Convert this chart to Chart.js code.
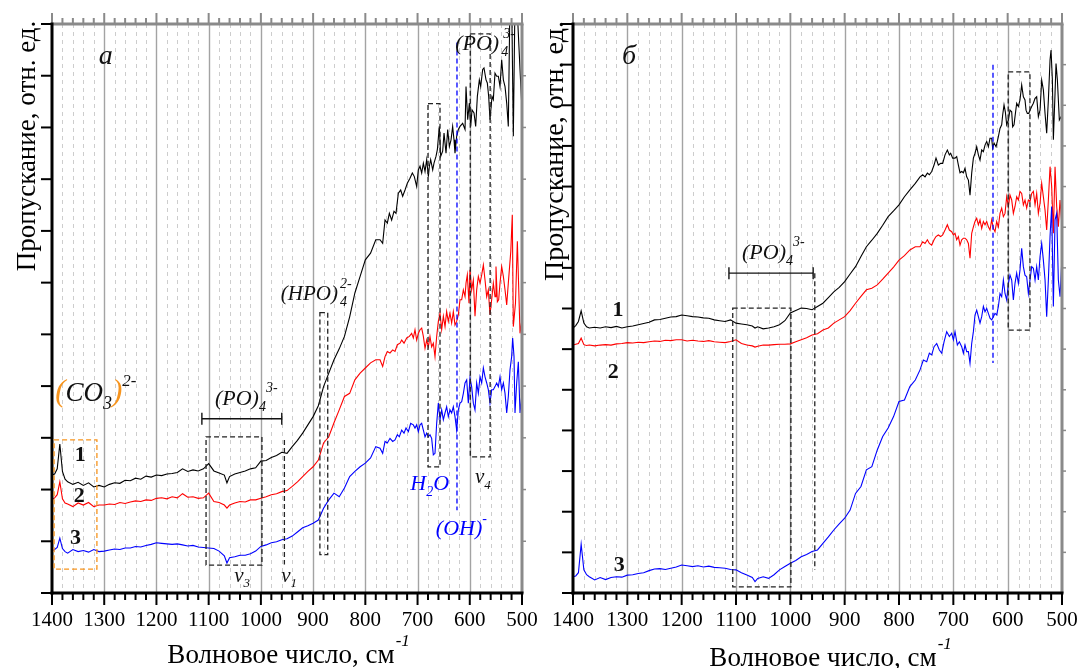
<!DOCTYPE html>
<html>
<head>
<meta charset="utf-8">
<script src="https://cdn.jsdelivr.net/npm/chart.js@4.4.1/dist/chart.umd.min.js"></script>
<style>
  html, body { margin: 0; padding: 0; background: #fff; }
  #wrap { position: relative; width: 1080px; height: 668px; overflow: hidden; }
  .panel { position: absolute; top: 0; width: 540px; height: 668px; }
</style>
</head>
<body>
<div id="wrap">
  <div class="panel" style="left:0"><canvas id="chartA" width="540" height="668"></canvas></div>
  <div class="panel" style="left:540px"><canvas id="chartB" width="540" height="668"></canvas></div>
</div>
<script>
// coarse wavenumber grid (cm-1), 1400 -> 770
const coarseX = [
  1400,1395,1390,1385,1380,1375,1370,1360,1350,1340,
  1330,1320,1310,1300,1290,1280,1270,1260,1250,1240,
  1230,1220,1210,1200,1190,1180,1170,1160,1150,1140,
  1130,1120,1110,1100,1090,1080,1070,1065,1060,1050,
  1040,1030,1020,1010,1000,990,980,970,960,950,
  940,930,920,910,900,890,880,870,860,850,
  840,830,820,810,800,790,780,770
];

// panel "а": coarse part (1400 -> 780)
const panelA_curve1 = [
  2.28,2.30,2.40,2.88,2.35,2.20,2.15,2.10,2.14,2.08,
  2.13,2.05,2.08,2.05,2.10,2.13,2.12,2.18,2.17,2.22,
  2.20,2.26,2.24,2.28,2.27,2.30,2.31,2.33,2.40,2.35,
  2.38,2.36,2.40,2.50,2.36,2.32,2.28,2.13,2.25,2.30,
  2.33,2.36,2.40,2.42,2.55,2.56,2.62,2.66,2.72,2.70,
  2.83,2.95,3.09,3.25,3.41,3.62,3.99,4.25,4.51,4.72,
  4.96,5.34,5.80,6.12,6.44,6.57,6.83
];
const panelA_curve2 = [
  1.80,1.84,1.90,2.15,1.82,1.74,1.72,1.67,1.74,1.70,
  1.75,1.67,1.70,1.70,1.72,1.71,1.75,1.73,1.76,1.78,
  1.77,1.80,1.79,1.83,1.84,1.82,1.86,1.84,1.92,1.85,
  1.86,1.83,1.84,1.93,1.77,1.75,1.70,1.64,1.70,1.74,
  1.77,1.76,1.80,1.80,1.83,1.86,1.90,1.92,1.96,1.98,
  2.06,2.15,2.25,2.35,2.44,2.57,2.90,3.02,3.29,3.54,
  3.80,3.86,4.12,4.25,4.35,4.45,4.51
];
const panelA_curve3 = [
  0.81,0.84,0.88,1.06,0.86,0.80,0.77,0.84,0.80,0.82,
  0.79,0.84,0.80,0.81,0.83,0.85,0.84,0.87,0.87,0.90,
  0.89,0.92,0.94,0.97,0.96,0.95,0.94,0.95,0.93,0.91,
  0.92,0.89,0.88,0.87,0.86,0.81,0.72,0.58,0.68,0.70,
  0.73,0.73,0.76,0.81,0.90,0.93,0.97,0.99,1.03,1.05,
  1.10,1.18,1.26,1.30,1.35,1.41,1.64,1.80,1.93,1.86,
  2.03,2.25,2.35,2.44,2.51,2.61,2.83
];
// panel "а": fine part (772 -> 500), x and y
const panelA_curve1_fineX = [771.9,766.8,762.3,757.9,754.0,749.6,745.1,741.3,736.8,732.3,728.5,724.0,719.6,714.5,710.0,706.2,701.7,698.5,695.3,692.1,688.9,685.7,682.5,679.3,677.4,674.9,671.0,668.5,664.7,662.1,658.3,655.7,651.9,649.3,645.5,642.3,639.1,635.9,632.8,630.2,628.3,625.1,621.9,618.7,613.6,609.1,607.2,604.0,600.8,598.3,595.7,591.9,588.7,585.5,581.7,579.1,575.3,572.8,568.9,566.4,563.8,561.3,557.4,554.9,551.7,548.5,545.3,542.1,538.9,535.7,532.5,529.3,526.2,523.0,519.8,516.6,513.4,510.2,503.8,500];
const panelA_curve1_fineY = [6.83,6.76,7.21,7.15,7.34,7.21,7.38,7.34,7.73,7.79,7.67,7.79,7.92,8.02,8.12,8.05,7.86,8.18,8.25,8.12,8.31,8.15,8.38,8.05,8.25,8.38,8.18,8.31,8.44,8.57,9.02,8.44,8.54,8.89,8.50,8.96,8.63,8.76,9.02,8.76,8.50,8.83,8.96,9.02,9.08,8.96,9.79,9.15,9.47,9.02,9.34,9.28,9.02,9.60,9.92,9.79,10.12,10.15,9.92,9.86,9.60,9.15,9.60,9.54,10.05,9.99,9.99,9.79,10.31,9.92,9.79,9.47,9.02,11.5,11.5,8.83,11.5,11.5,10.12,9.34];
const panelA_curve2_fineX = [771.9,766.8,762.3,757.9,752.8,747.6,743.2,738.7,733.6,730.4,725.9,720.8,715.7,711.3,708.1,704.9,701.7,698.5,695.3,692.1,688.9,685.7,682.5,679.3,676.2,673.0,669.8,666.6,663.4,660.2,657.0,653.8,650.6,647.4,644.3,641.1,637.9,634.7,631.5,628.3,625.1,621.9,618.7,615.5,612.3,609.1,607.2,604.7,601.5,599.6,596.4,593.2,590.0,586.8,583.6,580.4,577.2,574.0,570.8,567.6,564.5,561.3,558.1,554.9,551.7,549.8,547.2,544.7,542.1,538.9,535.7,532.5,529.3,526.2,521.5,518.6,516.6,512.5,508.9,503.8,500];
const panelA_curve2_fineY = [4.51,4.38,4.57,4.67,4.64,4.70,4.67,4.80,4.83,4.89,4.83,4.93,4.96,5.02,4.93,5.09,4.89,5.02,5.09,5.12,4.96,4.73,4.89,4.76,4.96,4.76,4.83,4.57,4.96,5.25,5.41,5.09,5.35,5.15,5.44,5.25,5.41,5.22,5.44,5.18,5.25,5.38,5.67,5.67,5.86,5.73,5.99,6.15,5.60,6.25,5.86,6.05,5.35,5.86,6.12,5.99,6.15,6.34,6.05,5.73,5.86,5.38,5.67,5.99,5.73,6.31,5.63,5.67,5.99,6.31,6.12,5.86,5.57,5.99,6.60,7.31,5.15,5.60,6.80,5.02,5.30];
const panelA_curve3_fineX = [771.9,766.8,762.3,757.9,752.8,747.6,743.2,738.7,734.9,730.4,725.9,722.1,717.6,713.2,708.1,704.9,701.7,698.5,695.3,692.1,688.9,685.7,682.5,679.3,676.2,673.0,669.8,666.6,663.4,660.2,657.0,653.8,650.6,647.4,644.3,641.1,637.9,634.7,631.5,628.3,625.1,621.9,618.7,615.5,612.3,609.1,605.9,602.8,599.6,596.4,593.2,590.0,586.8,583.6,580.4,577.2,574.0,570.8,567.6,564.5,561.3,558.1,554.9,551.7,548.5,545.3,542.1,538.9,535.7,532.5,529.3,526.2,523.0,519.8,517.9,515.3,513.4,510.2,507.0,503.8,500];
const panelA_curve3_fineY = [2.80,2.70,2.93,2.90,2.99,2.93,2.96,3.06,3.02,3.15,3.09,3.19,3.12,3.28,3.25,3.19,3.25,3.12,3.25,3.28,3.15,3.02,3.09,3.02,3.06,2.99,2.67,2.70,3.28,3.67,3.35,3.54,3.35,3.48,3.60,3.41,3.54,3.48,3.60,3.41,3.15,3.54,3.67,3.70,3.86,4.06,4.12,3.67,4.15,3.99,3.67,3.54,4.06,3.86,4.18,4.06,4.35,4.18,4.06,3.93,3.67,3.93,3.93,3.99,4.06,3.99,4.18,3.93,4.06,3.86,3.48,3.80,4.31,4.57,4.93,4.57,3.48,4.06,4.47,3.48,3.86];

// panel "б": coarse part (1400 -> 770)
const panelB_curve1 = [
  6.52,6.58,6.68,6.94,6.64,6.55,6.52,6.54,6.52,6.55,
  6.53,6.56,6.52,6.55,6.57,6.60,6.63,6.66,6.72,6.73,
  6.76,6.79,6.80,6.84,6.82,6.80,6.79,6.77,6.76,6.72,
  6.70,6.68,6.72,6.64,6.62,6.60,6.57,6.52,6.55,6.50,
  6.52,6.55,6.60,6.70,6.89,6.95,7.01,7.00,6.97,7.05,
  7.13,7.27,7.41,7.52,7.66,7.85,8.03,8.28,8.52,8.68,
  8.85,9.05,9.26,9.40,9.55,9.75,9.92,10.08
];
const panelB_curve2 = [
  6.10,6.12,6.14,6.27,6.11,6.09,6.10,6.08,6.10,6.11,
  6.10,6.13,6.14,6.16,6.15,6.17,6.16,6.18,6.20,6.19,
  6.22,6.21,6.23,6.23,6.20,6.22,6.20,6.19,6.21,6.18,
  6.17,6.16,6.19,6.23,6.14,6.10,6.08,6.05,6.07,6.10,
  6.10,6.11,6.12,6.12,6.13,6.18,6.23,6.28,6.35,6.38,
  6.47,6.52,6.64,6.72,6.80,6.95,7.13,7.30,7.46,7.50,
  7.58,7.72,7.87,8.02,8.19,8.30,8.44,8.52
];
const panelB_curve3 = [
  0.40,0.42,0.50,1.20,0.57,0.45,0.40,0.32,0.38,0.33,
  0.38,0.40,0.39,0.44,0.45,0.48,0.50,0.55,0.59,0.60,
  0.58,0.61,0.64,0.69,0.67,0.65,0.67,0.64,0.66,0.63,
  0.62,0.61,0.58,0.57,0.50,0.44,0.38,0.28,0.36,0.40,
  0.36,0.45,0.57,0.65,0.73,0.80,0.89,0.95,1.02,1.06,
  1.22,1.38,1.55,1.70,1.84,2.04,2.45,2.62,3.03,3.11,
  3.52,3.85,4.06,4.34,4.71,4.75,5.08,5.24
];
// panel "б": fine part (761 -> 500)
const panelB_curve1_fineX = [761.3,756.4,752.1,747.8,744.1,739.8,735.5,731.9,727.6,723.3,719.6,715.3,711.0,707.3,704.9,701.2,696.9,693.8,690.7,687.7,684.6,681.5,678.5,675.4,672.3,669.3,666.2,663.1,660.1,657.0,653.9,650.9,647.8,644.7,641.7,638.6,635.5,632.5,629.4,627.6,625.1,621.4,619.0,617.1,614.1,611.0,609.2,606.7,604.3,601.8,598.7,595.7,592.6,590.8,588.3,586.5,583.4,580.3,577.3,574.2,571.1,568.1,566.2,563.8,561.3,558.9,555.8,552.7,549.6,546.6,543.5,540.4,537.4,534.3,531.2,528.2,525.1,522.0,520.2,517.7,515.9,512.8,511.0,508.5,504.9,500];
const panelB_curve1_fineY = [10.24,10.29,10.24,10.33,10.29,10.37,10.53,10.70,10.53,10.57,10.57,10.78,10.90,10.78,10.82,10.70,10.70,10.74,10.53,10.34,10.37,10.34,10.45,10.24,10.16,9.79,10.33,10.70,10.82,10.98,10.78,10.65,10.90,10.86,11.02,11.11,10.98,11.19,11.19,10.94,11.07,10.98,11.11,11.23,11.43,11.52,11.76,12.01,11.84,11.52,11.64,11.88,11.84,11.47,11.52,11.72,12.05,11.97,12.13,12.50,12.21,12.13,11.88,11.80,11.80,11.88,11.97,12.05,12.17,12.21,11.72,11.88,12.62,12.38,11.80,11.31,12.13,13.12,13.36,12.62,11.15,12.30,13.03,12.62,11.64,11.76];
const panelB_curve2_fineX = [761.3,756.4,752.1,747.8,744.1,739.8,735.5,731.9,727.6,723.3,719.6,715.3,711.0,707.3,703.0,699.9,696.9,693.8,690.7,687.7,684.6,681.5,678.5,675.4,672.3,669.3,666.2,663.1,660.1,657.0,653.9,650.9,647.8,644.7,641.7,638.6,635.5,632.5,629.4,626.3,623.3,620.2,617.1,614.1,611.0,607.9,604.9,601.8,598.7,595.7,592.6,589.5,586.5,583.4,580.3,577.3,574.2,571.1,568.1,565.0,561.9,558.9,555.8,552.7,549.6,546.6,543.5,540.4,537.4,534.3,531.2,528.2,525.1,522.0,519.0,515.9,512.8,509.8,506.7,503.6,500];
const panelB_curve2_fineY = [8.52,8.64,8.60,8.69,8.60,8.56,8.69,8.77,8.81,8.77,8.81,8.93,9.06,8.93,8.89,8.81,8.85,8.69,8.77,8.56,8.69,8.73,8.73,8.69,8.60,8.24,8.85,9.01,9.14,9.22,9.06,9.18,8.97,9.14,9.06,9.14,9.01,8.93,9.18,8.97,8.89,9.14,9.01,9.34,9.47,9.26,9.34,9.75,9.51,9.79,9.67,9.34,9.51,9.75,9.67,9.88,9.83,9.55,9.67,9.47,9.67,9.63,9.83,9.88,9.55,9.83,9.34,9.59,10.08,9.75,9.42,8.93,9.67,10.49,10.00,8.85,10.49,9.51,9.01,9.67,9.01];
const panelB_curve3_fineX = [761.3,755.2,749.0,744.1,739.8,735.5,730.6,725.7,721.4,717.1,712.2,707.3,703.0,699.9,696.9,692.6,688.9,684.6,681.5,678.5,675.4,672.3,669.3,666.2,663.1,660.1,657.0,653.9,650.9,647.8,644.7,641.7,638.6,635.5,632.5,629.4,626.3,623.3,620.2,617.1,614.1,611.0,607.9,604.9,601.8,598.7,595.7,592.6,589.5,586.5,583.4,580.3,577.3,574.2,571.1,568.1,565.0,561.9,558.9,555.8,552.7,549.6,546.6,543.5,540.4,537.4,534.3,531.2,528.2,525.1,522.0,519.0,515.9,512.8,509.8,506.7,503.6,500];
const panelB_curve3_fineY = [5.49,5.73,5.69,5.90,5.86,6.06,6.14,5.98,5.90,6.18,6.43,6.31,6.39,6.23,6.43,6.10,6.18,6.06,5.90,6.10,5.94,5.94,5.65,6.14,6.43,6.84,6.96,6.80,6.64,6.80,7.05,6.92,7.00,6.88,6.76,6.72,6.80,6.88,6.84,7.05,7.37,7.29,7.70,7.37,7.21,7.62,7.82,7.70,7.21,7.62,7.87,7.62,7.95,8.48,8.03,7.82,7.78,7.37,7.70,8.03,7.99,7.70,8.03,7.70,8.28,8.60,8.19,7.70,6.80,7.70,8.77,9.51,7.05,9.18,9.34,7.70,7.29,8.28];

const FONT = '"Liberation Serif", "Times New Roman", serif';
const ORANGE = '#f7941d';
const BLUE = '#0000ff';

// annotations, in data units (cm-1 / y units)
const notesA = [
  {type: 'box', x1: 1396, x2: 1314, y1: 2.96, y2: 0.46, color: ORANGE},
  {type: 'text', x: 1394, y: 3.71, parts: [
    {t: '(', s: 31, c: ORANGE}, {t: 'CO', s: 27}, {t: '3', s: 18, dy: 8},
    {t: ')', s: 31, c: ORANGE}, {t: '2-', s: 17, dy: -15}]},
  {type: 'label', x: 1346, y: 2.67, t: '1'},
  {type: 'label', x: 1348, y: 1.87, t: '2'},
  {type: 'label', x: 1355, y: 1.06, t: '3'},
  {type: 'text', x: 1088, y: 3.64, parts: [{t: '(PO)', s: 22}, {t: '4', s: 14, dy: 6}, {t: '3-', s: 14, dy: -13}]},
  {type: 'bar', x1: 1113, x2: 960, y: 3.37},
  {type: 'box', x1: 1105, x2: 998, y1: 3.02, y2: 0.54},
  {type: 'vline', x: 955, y1: 2.96, y2: 0.55},
  {type: 'text', x: 1051, y: 0.21, parts: [{t: 'ν', s: 21}, {t: '3', s: 13, dy: 5}]},
  {type: 'text', x: 961, y: 0.21, parts: [{t: 'ν', s: 21}, {t: '1', s: 13, dy: 5}]},
  {type: 'box', x1: 887, x2: 872, y1: 5.42, y2: 0.74},
  {type: 'text', x: 962, y: 5.67, parts: [{t: '(HPO)', s: 21}, {t: '4', s: 14, dy: 6, keep: true, dx: 2}, {t: '2-', s: 14, dy: -12, dx: 2}]},
  {type: 'box', x1: 680, x2: 657, y1: 9.46, y2: 2.44},
  {type: 'text', x: 714, y: 1.99, c: BLUE, parts: [{t: 'H', s: 22}, {t: '2', s: 14, dy: 6}, {t: 'O', s: 22}]},
  {type: 'vline', x: 624.5, y1: 10.64, y2: 1.6, color: BLUE},
  {type: 'text', x: 665, y: 1.12, c: BLUE, parts: [{t: '(OH)', s: 22}, {t: '-', s: 14, dy: -12}]},
  {type: 'box', x1: 599, x2: 561, y1: 10.81, y2: 2.63},
  {type: 'text', x: 590, y: 2.13, parts: [{t: 'ν', s: 21}, {t: '4', s: 13, dy: 6}]},
  {type: 'text', x: 628, y: 10.5, parts: [{t: '(PO)', s: 22}, {t: '4', s: 14, dy: 6, keep: true, dx: 2}, {t: '3-', s: 14, dy: -12, dx: 4}]},
  {type: 'letter', x: 1297, y: 10.37, t: 'a'}
];
const notesB = [
  {type: 'letter', x: 1297, y: 13.2, t: 'б'},
  {type: 'text', x: 1089, y: 8.22, parts: [{t: '(PO)', s: 22}, {t: '4', s: 14, dy: 6}, {t: '3-', s: 14, dy: -13}]},
  {type: 'bar', x1: 1113, x2: 958, y: 7.87},
  {type: 'box', x1: 1106, x2: 999, y1: 7.01, y2: 0.15},
  {type: 'vline', x: 955, y1: 7.87, y2: 0.57},
  {type: 'vline', x: 627, y1: 13.0, y2: 5.66, color: BLUE},
  {type: 'box', x1: 599, x2: 559, y1: 12.82, y2: 6.47},
  {type: 'label', x: 1317, y: 6.96, t: '1'},
  {type: 'label', x: 1326, y: 5.44, t: '2'},
  {type: 'label', x: 1315, y: 0.69, t: '3'}
];

function seg(ctx, x1, y1, x2, y2) {
  ctx.beginPath(); ctx.moveTo(x1, y1); ctx.lineTo(x2, y2); ctx.stroke();
}

function drawParts(ctx, parts, px, py, color) {
  let cx = px;
  ctx.textAlign = 'left';
  ctx.textBaseline = 'alphabetic';
  for (const p of parts) {
    ctx.font = `italic normal ${p.s}px ${FONT}`;
    ctx.fillStyle = p.c || color || '#111';
    const x0 = cx + (p.dx || 0);
    ctx.fillText(p.t, x0, py + (p.dy || 0));
    if (!p.keep) cx = x0 + ctx.measureText(p.t).width;
  }
}

const framePlugin = {
  id: 'frame',
  beforeDatasetsDraw(chart) {
    const {ctx, chartArea: a, scales: {x}} = chart;
    ctx.save();
    for (let w = 520; w < 1400; w += 20) {
      const px = Math.round(x.getPixelForValue(w)) + 0.5;
      if (w % 100 === 0) {
        ctx.setLineDash([]); ctx.strokeStyle = '#a3a3a3'; ctx.lineWidth = 1.4;
      } else {
        ctx.setLineDash([4, 4]); ctx.strokeStyle = '#cdcdcd'; ctx.lineWidth = 1;
      }
      seg(ctx, px, a.top, px, a.bottom);
    }
    ctx.restore();
  },
  afterDatasetsDraw(chart, args, opts) {
    const {ctx, chartArea: a, scales: {x, y}} = chart;
    ctx.save();
    ctx.setLineDash([]);
    ctx.lineCap = 'butt';

    // top axis (grey, ticks upward)
    ctx.strokeStyle = '#8a8a8a';
    ctx.lineWidth = 2;
    for (let w = 500; w <= 1400; w += 20) {
      const px = x.getPixelForValue(w);
      seg(ctx, px, a.top, px, a.top - (w % 100 === 0 ? 11 : 6));
    }
    ctx.lineWidth = 3;
    seg(ctx, a.left, a.top, a.right + 1.5, a.top);
    // right axis (grey)
    seg(ctx, a.right, a.top, a.right, a.bottom);
    ctx.lineWidth = 1.5;
    for (let v = 1; v < opts.yMax; v++) {
      const py = y.getPixelForValue(v);
      seg(ctx, a.right, py, a.right + 4, py);
    }

    // bottom axis (black, ticks downward)
    ctx.strokeStyle = '#000';
    ctx.lineWidth = 2;
    for (let w = 500; w <= 1400; w += 20) {
      const px = x.getPixelForValue(w);
      seg(ctx, px, a.bottom, px, a.bottom + (w % 100 === 0 ? 12 : 7));
    }
    ctx.lineWidth = 3;
    seg(ctx, a.left - 1.5, a.bottom, a.right + 1.5, a.bottom);
    // left axis (black, ticks to the left)
    seg(ctx, a.left, a.top - 1.5, a.left, a.bottom + 1.5);
    ctx.lineWidth = 2;
    for (let v = 0; v <= opts.yMax; v++) {
      const py = y.getPixelForValue(v);
      seg(ctx, a.left - 11, py, a.left, py);
    }

    // annotations
    for (const n of opts.notes) {
      if (n.type === 'box') {
        ctx.setLineDash([5, 3]);
        ctx.strokeStyle = n.color || '#222';
        ctx.lineWidth = 1.3;
        const x1 = x.getPixelForValue(n.x1), x2 = x.getPixelForValue(n.x2);
        const y1 = y.getPixelForValue(n.y1), y2 = y.getPixelForValue(n.y2);
        ctx.strokeRect(x1, y1, x2 - x1, y2 - y1);
      } else if (n.type === 'vline') {
        ctx.setLineDash([5, 3]);
        ctx.strokeStyle = n.color || '#222';
        ctx.lineWidth = 1.3;
        const px = x.getPixelForValue(n.x);
        seg(ctx, px, y.getPixelForValue(n.y1), px, y.getPixelForValue(n.y2));
      } else if (n.type === 'bar') {
        ctx.setLineDash([]);
        ctx.strokeStyle = '#111';
        ctx.lineWidth = 1.4;
        const x1 = x.getPixelForValue(n.x1), x2 = x.getPixelForValue(n.x2), py = y.getPixelForValue(n.y);
        seg(ctx, x1, py, x2, py);
        seg(ctx, x1, py - 6, x1, py + 6);
        seg(ctx, x2, py - 6, x2, py + 6);
      } else if (n.type === 'text') {
        drawParts(ctx, n.parts, x.getPixelForValue(n.x), y.getPixelForValue(n.y), n.c);
      } else if (n.type === 'label') {
        ctx.font = `normal bold 22px ${FONT}`;
        ctx.fillStyle = '#111';
        ctx.textAlign = 'center';
        ctx.textBaseline = 'middle';
        ctx.fillText(n.t, x.getPixelForValue(n.x), y.getPixelForValue(n.y));
      } else if (n.type === 'letter') {
        ctx.font = `italic normal 28px ${FONT}`;
        ctx.fillStyle = '#111';
        ctx.textAlign = 'center';
        ctx.textBaseline = 'middle';
        ctx.fillText(n.t, x.getPixelForValue(n.x), y.getPixelForValue(n.y));
      }
    }

    // axis titles
    ctx.setLineDash([]);
    ctx.fillStyle = '#000';
    ctx.font = `normal normal 27px ${FONT}`;
    ctx.textAlign = 'center';
    ctx.textBaseline = 'alphabetic';
    const mainTitle = 'Волновое число, см';
    const tw = ctx.measureText(mainTitle).width;
    ctx.fillText(mainTitle, opts.xTitleX, opts.xTitleY);
    ctx.font = `italic normal 17px ${FONT}`;
    ctx.textAlign = 'left';
    ctx.fillText('-1', opts.xTitleX + tw / 2 + 1, opts.xTitleY - 17);

    ctx.translate(opts.yTitleX, opts.yTitleY);
    ctx.rotate(-Math.PI / 2);
    ctx.font = `normal normal ${opts.yTitleSize}px ${FONT}`;
    ctx.textAlign = 'center';
    ctx.textBaseline = 'middle';
    ctx.fillText('Пропускание, отн. ед.', 0, 0);
    ctx.restore();
  }
};

function toPoints(xs, ys) {
  return xs.map((w, k) => ({x: w, y: ys[k]}));
}

function makePanel(canvasId, curves, yMax, padLeft, padRight, frameOpts) {
  const colors = ['#000000', '#ff0000', '#0000ff'];
  const datasets = curves.map((c, i) => ({
    data: toPoints(coarseX.slice(0, c.coarse.length), c.coarse).concat(toPoints(c.fineX, c.fineY)),
    borderColor: colors[i],
    borderWidth: 1.1,
    pointRadius: 0,
    tension: 0,
    fill: false
  })).reverse();
  return new Chart(document.getElementById(canvasId), {
    type: 'line',
    data: {datasets},
    options: {
      responsive: false,
      animation: false,
      devicePixelRatio: 1,
      layout: {padding: {top: 24, left: padLeft, right: padRight, bottom: 0}},
      plugins: {legend: {display: false}, tooltip: {enabled: false}, frame: Object.assign({yMax}, frameOpts)},
      scales: {
        x: {
          type: 'linear',
          reverse: true,
          min: 500,
          max: 1400,
          afterFit: (scale) => { scale.height = 75; scale.paddingLeft = 0; scale.paddingRight = 0; },
          grid: {display: false, drawTicks: false},
          border: {display: false},
          ticks: {
            stepSize: 100,
            autoSkip: false,
            maxRotation: 0,
            padding: 15,
            color: '#000',
            font: {family: FONT, size: 21},
            callback: (v) => String(v)
          }
        },
        y: {type: 'linear', min: 0, max: yMax, display: false}
      }
    },
    plugins: [framePlugin]
  });
}

makePanel('chartA', [
  {coarse: panelA_curve1, fineX: panelA_curve1_fineX, fineY: panelA_curve1_fineY},
  {coarse: panelA_curve2, fineX: panelA_curve2_fineX, fineY: panelA_curve2_fineY},
  {coarse: panelA_curve3, fineX: panelA_curve3_fineX, fineY: panelA_curve3_fineY}
], 11, 52, 18, {notes: notesA, xTitleX: 281, xTitleY: 663, yTitleX: 28, yTitleY: 146, yTitleSize: 27});
makePanel('chartB', [
  {coarse: panelB_curve1, fineX: panelB_curve1_fineX, fineY: panelB_curve1_fineY},
  {coarse: panelB_curve2, fineX: panelB_curve2_fineX, fineY: panelB_curve2_fineY},
  {coarse: panelB_curve3, fineX: panelB_curve3_fineX, fineY: panelB_curve3_fineY}
], 14, 33, 18, {notes: notesB, xTitleX: 283, xTitleY: 666, yTitleX: 16, yTitleY: 151, yTitleSize: 28});
</script>
</body>
</html>
